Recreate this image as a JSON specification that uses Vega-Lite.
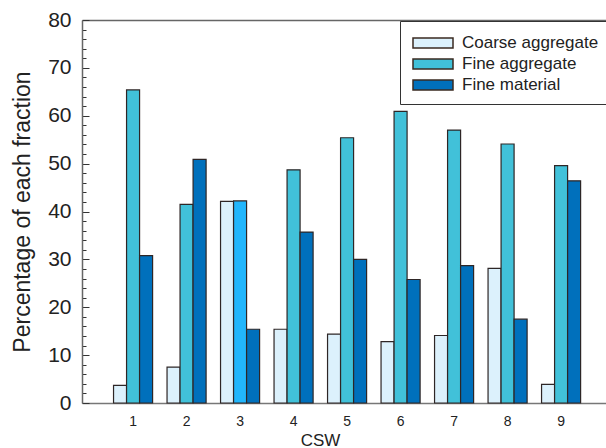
{
  "$schema": "https://vega.github.io/schema/vega-lite/v6.json",
  "width": 524,
  "height": 383,
  "autosize": {"type": "none"},
  "padding": {"left": 82, "top": 20, "right": 0, "bottom": 45},
  "background": "white",
  "config": {
    "view": {"stroke": null},
    "font": "Liberation Sans",
    "axis": {"grid": false, "labelColor": "#222", "titleColor": "#222", "labelFont": "Liberation Sans", "titleFont": "Liberation Sans", "titleFontWeight": "normal"}
  },
  "data": {
    "values": [
      {"CSW": 1, "Fraction": "Coarse aggregate", "Percentage": 3.7},
      {"CSW": 1, "Fraction": "Fine aggregate", "Percentage": 65.4},
      {"CSW": 1, "Fraction": "Fine material", "Percentage": 30.8},
      {"CSW": 2, "Fraction": "Coarse aggregate", "Percentage": 7.5},
      {"CSW": 2, "Fraction": "Fine aggregate", "Percentage": 41.5},
      {"CSW": 2, "Fraction": "Fine material", "Percentage": 50.9},
      {"CSW": 3, "Fraction": "Coarse aggregate", "Percentage": 42.1},
      {"CSW": 3, "Fraction": "Fine aggregate", "Percentage": 42.2},
      {"CSW": 3, "Fraction": "Fine material", "Percentage": 15.4},
      {"CSW": 4, "Fraction": "Coarse aggregate", "Percentage": 15.4},
      {"CSW": 4, "Fraction": "Fine aggregate", "Percentage": 48.7},
      {"CSW": 4, "Fraction": "Fine material", "Percentage": 35.7},
      {"CSW": 5, "Fraction": "Coarse aggregate", "Percentage": 14.4},
      {"CSW": 5, "Fraction": "Fine aggregate", "Percentage": 55.4},
      {"CSW": 5, "Fraction": "Fine material", "Percentage": 30.0},
      {"CSW": 6, "Fraction": "Coarse aggregate", "Percentage": 12.8},
      {"CSW": 6, "Fraction": "Fine aggregate", "Percentage": 60.9},
      {"CSW": 6, "Fraction": "Fine material", "Percentage": 25.8},
      {"CSW": 7, "Fraction": "Coarse aggregate", "Percentage": 14.1},
      {"CSW": 7, "Fraction": "Fine aggregate", "Percentage": 57.0},
      {"CSW": 7, "Fraction": "Fine material", "Percentage": 28.7},
      {"CSW": 8, "Fraction": "Coarse aggregate", "Percentage": 28.1},
      {"CSW": 8, "Fraction": "Fine aggregate", "Percentage": 54.1},
      {"CSW": 8, "Fraction": "Fine material", "Percentage": 17.5},
      {"CSW": 9, "Fraction": "Coarse aggregate", "Percentage": 3.9},
      {"CSW": 9, "Fraction": "Fine aggregate", "Percentage": 49.6},
      {"CSW": 9, "Fraction": "Fine material", "Percentage": 46.4}
    ]
  },
  "layer": [
    {
      "mark": {"type": "bar", "stroke": "#2e2626", "strokeWidth": 1.2},
      "encoding": {
        "x": {
          "field": "CSW", "type": "ordinal",
          "scale": {"paddingInner": 0.27, "paddingOuter": 0.532, "align": 0.554},
          "axis": {
            "orient": "bottom", "labelAngle": 0, "ticks": false, "domainColor": "#777", "domainWidth": 1.5,
            "labelFontSize": 14, "labelPadding": 11,
            "title": "CSW", "titleFontSize": 17, "titleX": 238, "titleY": 42, "titleAlign": "center", "titleBaseline": "alphabetic"
          }
        },
        "xOffset": {
          "field": "Fraction", "type": "nominal",
          "sort": ["Coarse aggregate", "Fine aggregate", "Fine material"],
          "scale": {"paddingInner": 0, "paddingOuter": 0}
        },
        "y": {
          "field": "Percentage", "type": "quantitative",
          "scale": {"domain": [0, 80], "nice": false},
          "axis": {
            "orient": "left",
            "values": [0, 2, 4, 6, 8, 10, 12, 14, 16, 18, 20, 22, 24, 26, 28, 30, 32, 34, 36, 38, 40, 42, 44, 46, 48, 50, 52, 54, 56, 58, 60, 62, 64, 66, 68, 70, 72, 74, 76, 78, 80],
            "tickCount": 100,
            "labelExpr": "datum.value % 10 === 0 ? datum.label : ''",
            "labelOverlap": false, "labelFlush": false,
            "tickSize": {"condition": {"test": "datum.value % 10 === 0", "value": -7}, "value": -4},
            "tickColor": "#333", "tickWidth": 1,
            "domainColor": "#666", "domainWidth": 1.5,
            "labelFontSize": 21, "labelPadding": 18,
            "title": "Percentage of each fraction", "titleFontSize": 23, "titlePadding": 13
          }
        },
        "color": {
          "condition": {"test": "datum.CSW == 3 && datum.Fraction == 'Fine aggregate'", "value": "#22b6fc"},
          "field": "Fraction", "type": "nominal",
          "scale": {"domain": ["Coarse aggregate", "Fine aggregate", "Fine material"], "range": ["#dcf1fc", "#41c1d9", "#0070bc"]},
          "legend": {
            "orient": "none", "legendX": 318, "legendY": 1, "padding": 11,
            "strokeColor": "#333", "fillColor": "white", "title": null,
            "symbolType": "M-2,-0.5H2V0.5H-2Z", "symbolSize": 400, "symbolOffset": 11,
            "symbolStrokeColor": "#3a2a20", "symbolStrokeWidth": 1.5, "symbolOpacity": 1,
            "labelOffset": 18, "labelFontSize": 17, "labelColor": "#222", "rowPadding": 2
          }
        }
      }
    },
    {
      "mark": {"type": "bar", "opacity": 0},
      "encoding": {
        "x": {
          "field": "CSW", "type": "ordinal",
          "axis": {"orient": "top", "labels": false, "ticks": false, "title": null, "domainColor": "#666", "domainWidth": 1.5}
        },
        "xOffset": {"field": "Fraction", "type": "nominal", "sort": ["Coarse aggregate", "Fine aggregate", "Fine material"]},
        "y": {"field": "Percentage", "type": "quantitative"}
      }
    }
  ],
  "resolve": {"axis": {"x": "independent"}}
}
